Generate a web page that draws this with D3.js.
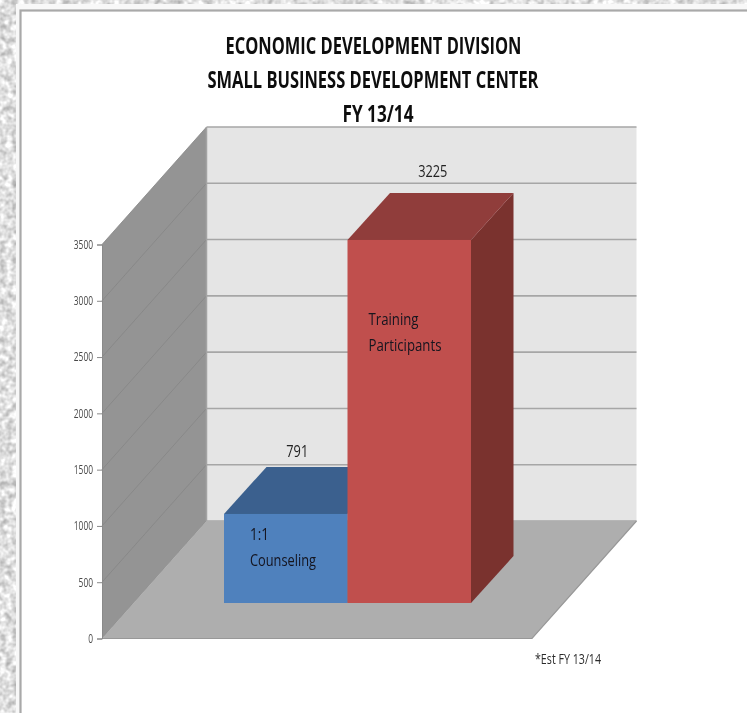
<!DOCTYPE html>
<html>
<head>
<meta charset="utf-8">
<script src="https://cdnjs.cloudflare.com/ajax/libs/d3/7.8.5/d3.min.js"></script>
<style>
html, body { margin: 0; padding: 0; background: #fff; overflow: hidden; }
text { font-family: "Open Sans", "Noto Sans", sans-serif; }
</style>
</head>
<body>
<script>
const categories = ["1:1 Counseling", "Training Participants"];
const values = [791, 3225];
const tickValues = [0, 500, 1000, 1500, 2000, 2500, 3000, 3500];
const titleLines = ["ECONOMIC DEVELOPMENT DIVISION", "SMALL BUSINESS DEVELOPMENT CENTER", "FY 13/14"];
const barLabels = [["1:1", "Counseling"], ["Training", "Participants"]];
const footnote = "*Est FY 13/14";

const wSvg = 747, hSvg = 713;

const svg = d3.select("body").append("svg")
    .attr("width", wSvg)
    .attr("height", hSvg)
    .style("display", "block");

// paper texture on the outside of the slide
const defs = svg.append("defs");
const paper = defs.append("filter").attr("id", "paper")
    .attr("x", 0).attr("y", 0).attr("width", "100%").attr("height", "100%")
    .attr("color-interpolation-filters", "sRGB");
paper.append("feTurbulence")
    .attr("type", "fractalNoise").attr("baseFrequency", 0.16).attr("numOctaves", 2).attr("seed", 4);
paper.append("feColorMatrix")
    .attr("type", "matrix")
    .attr("values", "0.55 0 0 0 0.6  0.55 0 0 0 0.6  0.55 0 0 0 0.6  0 0 0 0 1");

// the reference is a slightly soft screenshot
defs.append("filter").attr("id", "soft")
    .attr("x", 0).attr("y", 0).attr("width", wSvg).attr("height", hSvg)
    .attr("filterUnits", "userSpaceOnUse")
    .append("feGaussianBlur").attr("stdDeviation", 0.55);

svg.append("rect").attr("width", wSvg).attr("height", hSvg).attr("filter", "url(#paper)");

const chart = svg.append("g").attr("filter", "url(#soft)");

// slide
chart.append("rect")
    .attr("x", 16).attr("y", 4)
    .attr("width", wSvg).attr("height", hSvg)
    .attr("fill", "#f8f8f8");
chart.append("rect")
    .attr("x", 20.5).attr("y", 10.5)
    .attr("width", wSvg).attr("height", hSvg)
    .attr("fill", "#fff").attr("stroke", "#a9a9a9").attr("stroke-width", 2.2);

// oblique 3d: depth is a shift right and up
const xFront = 102, xEnd = 532;
const dxWall = 104.5, dyWall = -117.5;
const dxBar = 42.5, dyBar = -47;
const barInsetY = -35.5;

const y = d3.scaleLinear().domain([0, 3500]).range([638.5, 244.5]);
const x = d3.scaleBand().domain(categories).range([224, 471]).padding(0);

const pts = a => a.map(p => p.join(",")).join(" ");
const poly = (a, fill) => chart.append("polygon")
    .attr("points", pts(a))
    .attr("fill", fill);

const yBase = y(0), yTop = y(3500);

// back wall
chart.append("rect")
    .attr("x", xFront + dxWall).attr("y", yTop + dyWall)
    .attr("width", xEnd - xFront).attr("height", yBase - yTop)
    .attr("fill", "#e5e5e5");

// side wall
poly([[xFront, yBase], [xFront, yTop], [xFront + dxWall, yTop + dyWall], [xFront + dxWall, yBase + dyWall]], "#949494");

// grid lines on both walls
chart.append("g").selectAll("line")
    .data(tickValues)
    .join("line")
    .attr("x1", xFront + dxWall).attr("x2", xEnd + dxWall)
    .attr("y1", d => y(d) + dyWall).attr("y2", d => y(d) + dyWall)
    .attr("stroke", "#a6a6a6").attr("stroke-width", 1.6);

chart.append("g").selectAll("line")
    .data(tickValues)
    .join("line")
    .attr("x1", xFront).attr("x2", xFront + dxWall)
    .attr("y1", d => y(d)).attr("y2", d => y(d) + dyWall)
    .attr("stroke", "#858585").attr("stroke-width", 0.8);

chart.append("line")
    .attr("x1", xFront + dxWall).attr("x2", xFront + dxWall)
    .attr("y1", yTop + dyWall).attr("y2", yBase + dyWall)
    .attr("stroke", "#a3a3a3").attr("stroke-width", 1.5);

// floor
poly([[xFront, yBase], [xEnd, yBase], [xEnd + dxWall, yBase + dyWall], [xFront + dxWall, yBase + dyWall]], "#aeaeae");
chart.append("path")
    .attr("d", `M${xFront},${yBase}L${xEnd},${yBase}L${xEnd + dxWall},${yBase + dyWall}`)
    .attr("fill", "none").attr("stroke", "#989898").attr("stroke-width", 1.2);

// axis
const axisY = d3.axisLeft(y).tickValues(tickValues).tickSize(5).tickPadding(4).tickFormat(d3.format("d"));
const gAxis = chart.append("g")
    .attr("transform", `translate(${xFront},0)`)
    .call(axisY);
gAxis.select(".domain").attr("stroke", "#8a8a8a");
gAxis.selectAll(".tick line").attr("stroke", "#8a8a8a");
gAxis.selectAll(".tick text")
    .attr("fill", "#4a4a4a")
    .style("font-size", "12px")
    .style("font-family", "'Open Sans', sans-serif")
    .attr("textLength", d => String(d).length * 4.8)
    .attr("lengthAdjust", "spacingAndGlyphs");

// bars
const barColors = [
    { front: "#4f81bd", top: "#3b618e", side: "#2f4e72" },
    { front: "#c0504d", top: "#903c3a", side: "#7a302e" }
];

const drawBars = categories.map((c, i) => ({ c, v: values[i], col: barColors[i] }));
drawBars.forEach(d => {
    const x0 = x(d.c), x1 = x0 + x.bandwidth();
    const yB = yBase + barInsetY, yT = y(d.v) + barInsetY;
    poly([[x1, yB], [x1, yT], [x1 + dxBar, yT + dyBar], [x1 + dxBar, yB + dyBar]], d.col.side);
    poly([[x0, yT], [x1, yT], [x1 + dxBar, yT + dyBar], [x0 + dxBar, yT + dyBar]], d.col.top);
    chart.append("rect")
        .attr("x", x0).attr("y", yT)
        .attr("width", x1 - x0).attr("height", yB - yT)
        .attr("fill", d.col.front);
});

// value labels
chart.append("g").selectAll("text")
    .data(drawBars)
    .join("text")
    .attr("x", (d, i) => x(d.c) + x.bandwidth() / 2 + (i === 0 ? 11.5 : 23.5))
    .attr("y", (d, i) => y(d.v) + barInsetY + dyBar + (i === 0 ? -10 : -16))
    .attr("text-anchor", "middle")
    .attr("fill", "#222")
    .style("font-size", "15.5px")
    .attr("textLength", d => String(d.v).length * 7.3)
    .attr("lengthAdjust", "spacingAndGlyphs")
    .text(d => d.v);

// labels inside the bars
const labelWidths = [[19, 66], [50, 73]];
barLabels.forEach((lines, i) => {
    const x0 = x(categories[i]) + 26 - i * 5;
    const y0 = i === 0 ? 540 : 325;
    lines.forEach((t, j) => {
        chart.append("text")
            .attr("x", x0).attr("y", y0 + j * 26)
            .attr("fill", "#14141f")
            .style("font-size", "17px")
            .attr("textLength", labelWidths[i][j])
            .attr("lengthAdjust", "spacingAndGlyphs")
            .text(t);
    });
});

// title
chart.append("g").selectAll("text")
    .data(titleLines)
    .join("text")
    .attr("x", (d, i) => [373.5, 373, 378][i])
    .attr("y", (d, i) => [54, 88, 122][i])
    .attr("text-anchor", "middle")
    .attr("fill", "#111")
    .style("font-size", "23.5px")
    .style("font-weight", 700)
    .attr("textLength", (d, i) => [296, 331, 71][i])
    .attr("lengthAdjust", "spacingAndGlyphs")
    .text(d => d);

chart.append("text")
    .attr("x", 535).attr("y", 663.5)
    .attr("fill", "#2c2c2c")
    .style("font-size", "14px")
    .attr("textLength", 66)
    .attr("lengthAdjust", "spacingAndGlyphs")
    .text(footnote);
</script>
</body>
</html>
